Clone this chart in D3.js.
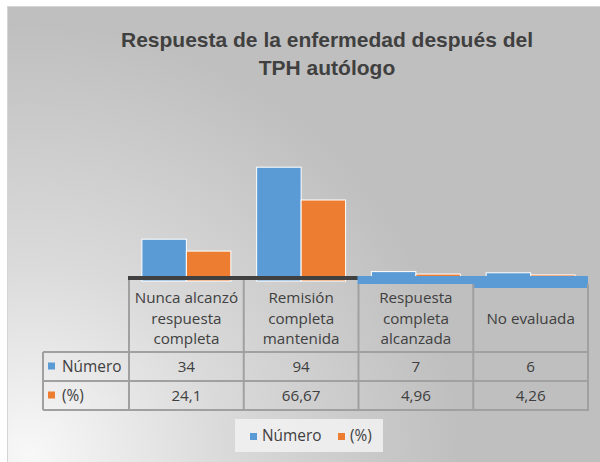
<!DOCTYPE html>
<html>
<head>
<meta charset="utf-8">
<script src="https://cdn.jsdelivr.net/npm/d3@7"></script>
<style>
  body { margin: 0; background: #fff; }
  svg text { font-family: "Open Sans", sans-serif; fill: #404040; }
</style>
</head>
<body>
<div class="chart"></div>
<script>
// data
var categories = [
    ["Nunca alcanzó", "respuesta", "completa"],
    ["Remisión", "completa", "mantenida"],
    ["Respuesta", "completa", "alcanzada"],
    ["No evaluada"]
];
var seriesNames = ["Número", "(%)"];
var numero = [34, 94, 7, 6];
var porcentaje = [24.1, 66.67, 4.96, 4.26];
var numeroLabels = ["34", "94", "7", "6"];
var porcentajeLabels = ["24,1", "66,67", "4,96", "4,26"];
var colors = ["#5b9bd5", "#ed7d31"];

var width = 600, height = 462;

var svg = d3.select("div.chart").append("svg")
    .attr("width", width)
    .attr("height", height);

// background gradient (light corner bottom-left)
var defs = svg.append("defs");
var grad = defs.append("radialGradient")
    .attr("id", "bg")
    .attr("gradientUnits", "userSpaceOnUse")
    .attr("cx", 30).attr("cy", 455).attr("r", 430);
grad.append("stop").attr("offset", "0").attr("stop-color", "#f8f8f8");
grad.append("stop").attr("offset", "0.45").attr("stop-color", "#dadada");
grad.append("stop").attr("offset", "1").attr("stop-color", "#bfbfbf");

svg.append("rect")
    .attr("x", 7.5).attr("y", 6.5)
    .attr("width", width).attr("height", height)
    .attr("fill", "url(#bg)")
    .attr("stroke", "#d4d4d4");

// title
var title = svg.append("text")
    .attr("text-anchor", "middle")
    .style("font-family", "'Liberation Sans', Arial, sans-serif")
    .style("font-weight", "bold")
    .style("font-size", "21px");
title.append("tspan").attr("x", 327).attr("y", 47).text("Respuesta de la enfermedad después del");
title.append("tspan").attr("x", 327).attr("y", 75).text("TPH autólogo");

// scales
var x0 = d3.scaleBand()
    .domain(d3.range(categories.length))
    .range([129, 588]);

var x1 = d3.scaleBand()
    .domain(seriesNames)
    .range([0, x0.bandwidth()])
    .paddingInner(0)
    .paddingOuter(0.29);

var y = d3.scaleLinear()
    .domain([0, 100])
    .range([280, 160]);

var rows = categories.map(function (c, i) {
    return [
        {cat: i, name: seriesNames[0], value: numero[i]},
        {cat: i, name: seriesNames[1], value: porcentaje[i]}
    ];
});

// bars
svg.append("g").selectAll("g")
    .data(rows)
    .enter().append("g")
    .attr("transform", function (d, i) { return "translate(" + x0(i) + ",0)"; })
    .selectAll("rect")
    .data(function (d) { return d; })
    .enter().append("rect")
    .attr("x", function (d) { return x1(d.name); })
    .attr("width", x1.bandwidth())
    .attr("y", function (d) { return y(d.value); })
    .attr("height", function (d) { return y(0) - y(d.value) + 1; })
    .attr("fill", function (d, i) { return colors[i]; })
    .attr("stroke", "#fff")
    .attr("stroke-width", 1);

// axis line (dark under first two, blue band under the rest as in the original)
var axisBand = [4, 4, 8, 12];
var axisColor = ["#404040", "#404040", "#5b9bd5", "#5b9bd5"];
svg.append("g").selectAll("rect")
    .data(axisBand)
    .enter().append("rect")
    .attr("x", function (d, i) { return x0(i) - 1; })
    .attr("y", y(0) - 4)
    .attr("width", x0.bandwidth() + 1)
    .attr("height", function (d) { return d; })
    .attr("fill", function (d, i) { return axisColor[i]; });

// data table
var rowTop = 352, rowH = 29;
var gridColor = "#a0a0a0";
var table = svg.append("g")
    .attr("stroke", gridColor)
    .attr("stroke-width", 2)
    .attr("fill", "none");

// vertical column lines
x0.domain().concat([categories.length]).forEach(function (i) {
    var xx = i < categories.length ? x0(i) : x0.range()[1];
    var top = i >= 2 ? y(0) + 4 : y(0);
    table.append("line")
        .attr("x1", xx).attr("x2", xx)
        .attr("y1", top).attr("y2", rowTop + 2 * rowH);
});
// horizontal row lines
[0, 1, 2].forEach(function (r) {
    table.append("line")
        .attr("x1", 43).attr("x2", x0.range()[1] + 1)
        .attr("y1", rowTop + r * rowH).attr("y2", rowTop + r * rowH);
});
table.append("line")
    .attr("x1", 43).attr("x2", 43)
    .attr("y1", rowTop).attr("y2", rowTop + 2 * rowH);

// category headers
svg.append("g").selectAll("text")
    .data(categories)
    .enter().append("text")
    .attr("text-anchor", "middle")
    .style("font-size", "15.2px")
    .attr("transform", function (d, i) { return "translate(" + (x0(i) + x0.bandwidth() / 2) + ",0)"; })
    .each(function (d) {
        var t = d3.select(this);
        var start = d.length === 1 ? 324 : 303;
        d.forEach(function (line, k) {
            t.append("tspan").attr("x", 0).attr("y", start + k * 20.5).text(line);
        });
    });

// row headers + values
var rowValues = [numeroLabels, porcentajeLabels];
seriesNames.forEach(function (name, r) {
    var cy = rowTop + r * rowH + rowH / 2;
    svg.append("rect")
        .attr("x", 48).attr("y", cy - 4)
        .attr("width", 7).attr("height", 7)
        .attr("fill", colors[r]);
    svg.append("text")
        .attr("x", 62).attr("y", cy + 5)
        .style("font-size", "15.4px")
        .text(name);
    svg.append("g").selectAll("text")
        .data(rowValues[r])
        .enter().append("text")
        .attr("x", function (d, i) { return x0(i) + x0.bandwidth() / 2; })
        .attr("y", cy + 5)
        .attr("text-anchor", "middle")
        .style("font-size", "15.2px")
        .text(function (d) { return d; });
});

// legend
var legend = svg.append("g");
legend.append("rect")
    .attr("x", 235).attr("y", 419)
    .attr("width", 148).attr("height", 33)
    .attr("fill", "#f2f2f2")
    .attr("opacity", 0.85);
var legendX = [250, 338];
seriesNames.forEach(function (name, i) {
    legend.append("rect")
        .attr("x", legendX[i]).attr("y", 433)
        .attr("width", 7).attr("height", 7)
        .attr("fill", colors[i]);
    legend.append("text")
        .attr("x", legendX[i] + 12).attr("y", 441)
        .style("font-size", "15.4px")
        .text(name);
});
</script>
</body>
</html>
